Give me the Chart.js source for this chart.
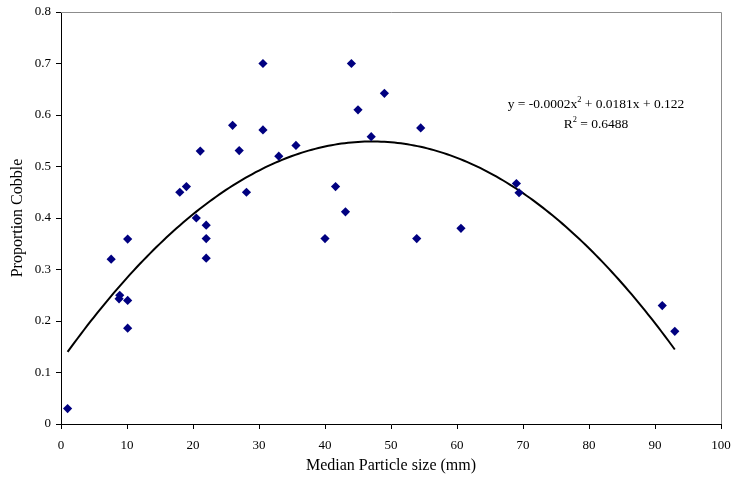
<!DOCTYPE html>
<html>
<head>
<meta charset="utf-8">
<script src="https://cdn.jsdelivr.net/npm/chart.js@4"></script>
<style>
  html, body { margin: 0; padding: 0; background: #fff; }
  #contenedor { width: 732px; height: 482px; }
</style>
</head>
<body>
<div id="contenedor"><canvas id="myChart" width="732" height="482"></canvas></div>
<script>

//Variables

const tamanoMediano = [1, 7.6, 8.9, 8.8, 10.1, 10.1, 10.1, 18, 19, 20.5, 22, 22, 22, 21.1, 26, 27, 28.1, 30.6, 30.6, 33, 35.6, 40, 41.6, 43.1, 44, 45, 47, 49, 53.9, 54.5, 60.6, 69, 69.4, 91.1, 93];
const proporcionCobble = [0.03, 0.32, 0.25, 0.243, 0.24, 0.186, 0.359, 0.45, 0.461, 0.40, 0.386, 0.36, 0.322, 0.53, 0.58, 0.531, 0.45, 0.70, 0.571, 0.52, 0.541, 0.36, 0.461, 0.412, 0.70, 0.61, 0.558, 0.642, 0.36, 0.575, 0.38, 0.467, 0.449, 0.23, 0.18];

// trend line y = a*x^2 + b*x + c (Excel polynomial fit, shown on the chart)
const coeficientes = [-0.000192, 0.0181, 0.122];
const rangoTendencia = [1, 93];

const ticksX = [0, 10, 20, 30, 40, 50, 60, 70, 80, 90, 100];
const ticksY = [0, 0.1, 0.2, 0.3, 0.4, 0.5, 0.6, 0.7, 0.8];

const textoEcuacion = ['y = -0.0002x', '2', ' + 0.0181x + 0.122'];
const textoR2 = ['R', '2', ' = 0.6488'];

const fuente = '"Liberation Serif", "DejaVu Serif", serif';
const chartGraph = document.getElementById('myChart');

//Funciones

function puntosDatos() {
    let puntos = [];
    for (let i = 0; i < tamanoMediano.length; i++) {
        puntos = [...puntos, { x: tamanoMediano[i], y: proporcionCobble[i] }];
    }
    return puntos;
}

function puntosTendencia() {
    let puntos = [];
    for (let x = rangoTendencia[0]; x <= rangoTendencia[1]; x += 0.5) {
        const y = coeficientes[0] * x * x + coeficientes[1] * x + coeficientes[2];
        puntos = [...puntos, { x: x, y: y }];
    }
    return puntos;
}

// text with a superscript in the middle, centered on cx
function textoSuper(ctx, partes, cx, cy, size) {
    ctx.font = size + 'px ' + fuente;
    const w1 = ctx.measureText(partes[0]).width;
    const w3 = ctx.measureText(partes[2]).width;
    ctx.font = (size * 0.62) + 'px ' + fuente;
    const w2 = ctx.measureText(partes[1]).width;
    let x = cx - (w1 + w2 + w3) / 2;
    ctx.textAlign = 'left';
    ctx.textBaseline = 'alphabetic';
    ctx.font = size + 'px ' + fuente;
    ctx.fillText(partes[0], x, cy);
    x += w1;
    ctx.font = (size * 0.62) + 'px ' + fuente;
    ctx.fillText(partes[1], x, cy - size * 0.42);
    x += w2;
    ctx.font = size + 'px ' + fuente;
    ctx.fillText(partes[2], x, cy);
}

const marcoYTexto = {
    id: 'marcoYTexto',
    beforeDatasetsDraw(chart) {
        const { ctx, chartArea } = chart;
        ctx.save();
        ctx.strokeStyle = '#8c8c8c';
        ctx.lineWidth = 1;
        ctx.beginPath();
        ctx.moveTo(chartArea.left, chartArea.top + 0.5);
        ctx.lineTo(chartArea.right + 0.5, chartArea.top + 0.5);
        ctx.lineTo(chartArea.right + 0.5, chartArea.bottom);
        ctx.stroke();
        ctx.restore();
    },
    afterDraw(chart) {
        const ctx = chart.ctx;
        ctx.save();
        ctx.fillStyle = '#000';
        textoSuper(ctx, textoEcuacion, 596, 108, 13.5);
        textoSuper(ctx, textoR2, 596, 128, 13.5);
        ctx.restore();
    }
};

function grafico() {
    const data = {
        datasets: [
            {
                label: 'Proportion Cobble',
                data: puntosDatos(),
                showLine: false,
                pointStyle: 'rectRot',
                pointRadius: 4.6,
                pointHoverRadius: 4.6,
                backgroundColor: '#000080',
                borderColor: '#000080',
                borderWidth: 0,
                order: 1
            },
            {
                label: 'Poly.',
                data: puntosTendencia(),
                showLine: true,
                borderColor: '#000',
                borderWidth: 2,
                pointRadius: 0,
                tension: 0,
                fill: false,
                order: 2
            }
        ]
    };

    const config = {
        type: 'scatter',
        data: data,
        options: {
            responsive: false,
            animation: false,
            events: [],
            layout: { padding: { top: 12, right: 11, left: 0, bottom: 0 } },
            plugins: {
                legend: { display: false },
                tooltip: { enabled: false }
            },
            scales: {
                x: {
                    type: 'linear',
                    min: 0,
                    max: 100,
                    afterFit: (scale) => {
                        scale.height = 58;
                        scale.paddingLeft = 0;
                        scale.paddingRight = 0;
                    },
                    afterBuildTicks: (scale) => { scale.ticks = ticksX.map(v => ({ value: v })); },
                    grid: { display: true, drawOnChartArea: false, drawTicks: true, tickLength: 5, color: '#000' },
                    border: { display: true, color: '#000', width: 1 },
                    ticks: { color: '#000', padding: 9, maxRotation: 0, font: { family: fuente, size: 13 } },
                    title: { display: true, text: 'Median Particle size (mm)', color: '#000', padding: { top: 0, bottom: 7 }, font: { family: fuente, size: 16 } }
                },
                y: {
                    type: 'linear',
                    min: 0,
                    max: 0.8,
                    afterFit: (scale) => {
                        scale.width = 61;
                        scale.paddingTop = 0;
                        scale.paddingBottom = 0;
                    },
                    afterBuildTicks: (scale) => { scale.ticks = ticksY.map(v => ({ value: v })); },
                    grid: { display: true, drawOnChartArea: false, drawTicks: true, tickLength: 5, color: '#000' },
                    border: { display: true, color: '#000', width: 1 },
                    ticks: { color: '#000', padding: 5, font: { family: fuente, size: 13 }, callback: (v) => String(Math.round(v * 10) / 10) },
                    title: { display: true, text: 'Proportion Cobble', color: '#000', padding: { top: 8, bottom: 0 }, font: { family: fuente, size: 16 } }
                }
            }
        },
        plugins: [marcoYTexto]
    };

    window.myChart = new Chart(chartGraph, config);
}

grafico();
</script>
</body>
</html>
